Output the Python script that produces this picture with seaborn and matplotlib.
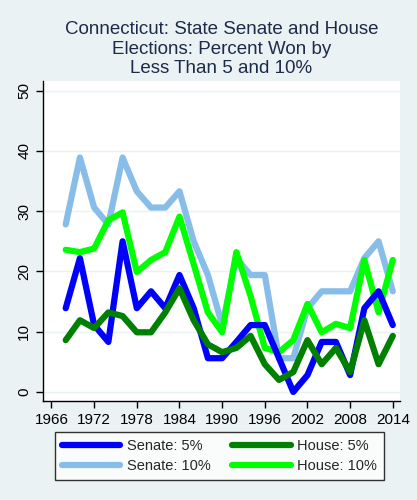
import pandas as pd
import matplotlib
matplotlib.use("Agg")
import matplotlib.pyplot as plt
import seaborn as sns

# data (percent of seats won by less than 5 / 10 points)
years = list(range(1968, 2015, 2))
senate_5 = [13.9, 22.2, 11.1, 8.3, 25.0, 13.9, 16.7, 13.9, 19.4, 13.9, 5.6, 5.6,
            8.3, 11.1, 11.1, 5.6, 0.0, 2.8, 8.3, 8.3, 2.8, 13.9, 16.7, 11.1]
senate_10 = [27.8, 38.9, 30.6, 27.8, 38.9, 33.3, 30.6, 30.6, 33.3, 25.0, 19.4, 11.1,
             22.2, 19.4, 19.4, 5.6, 5.6, 13.9, 16.7, 16.7, 16.7, 22.2, 25.0, 16.7]
house_5 = [8.6, 11.9, 10.6, 13.2, 12.6, 9.9, 9.9, 13.2, 17.2, 11.9, 7.9, 6.6,
           7.3, 9.3, 4.6, 2.0, 3.3, 8.6, 4.6, 7.3, 3.3, 11.9, 4.6, 9.3]
house_10 = [23.6, 23.2, 23.8, 28.5, 29.8, 19.9, 21.9, 23.2, 29.1, 21.2, 13.2, 9.9,
            23.2, 15.9, 7.3, 6.6, 8.6, 14.6, 9.9, 11.3, 10.6, 21.9, 13.2, 21.9]

series_names = ["Senate: 5%", "Senate: 10%", "House: 5%", "House: 10%"]
colors = ["#0000ff", "#87bde8", "#008000", "#00ff00"]

df = pd.DataFrame({"year": years, "Senate: 5%": senate_5, "Senate: 10%": senate_10,
                   "House: 5%": house_5, "House: 10%": house_10})
long = df.melt(id_vars="year", var_name="series", value_name="pct")

bg = "#eaf2f3"
sns.set_theme(style="white")
plt.rcParams["font.family"] = ["Liberation Sans", "DejaVu Sans"]

fig = plt.figure(figsize=(4.17, 5), dpi=100, facecolor=bg)
ax = fig.add_axes([0.103, 0.198, 0.856, 0.640])
ax.set_facecolor("white")

# draw order: 10% lines under 5% lines
draw_order = ["Senate: 10%", "House: 10%", "Senate: 5%", "House: 5%"]
pal = dict(zip(series_names, colors))
for name in draw_order:
    sns.lineplot(data=long[long.series == name], x="year", y="pct", color=pal[name],
                 linewidth=4.5, solid_capstyle="round", solid_joinstyle="round",
                 ax=ax, legend=False)

ax.set_xlim(1964.8, 2015.0)
ax.set_ylim(-1.5, 51.6)
ax.set_xticks(range(1966, 2015, 6))
ax.set_yticks(range(0, 51, 10))
ax.set_xlabel("")
ax.set_ylabel("")
ax.grid(axis="y", color=bg, linewidth=1)
ax.set_axisbelow(True)
for s in ["top", "right"]:
    ax.spines[s].set_visible(False)
for s in ["left", "bottom"]:
    ax.spines[s].set_color("black")
    ax.spines[s].set_linewidth(1)
ax.tick_params(axis="both", which="major", direction="out", length=5, width=1,
               color="black", labelsize=11, labelcolor="black", left=True, bottom=True)
for lbl in ax.get_yticklabels():
    lbl.set_rotation(90)
    lbl.set_va("center")

fig.text(0.531, 0.958, "Connecticut: State Senate and House\nElections: Percent Won by\nLess Than 5 and 10%",
         ha="center", va="top", fontsize=13.5, color="#1e2a4a", linespacing=1.2)

handles = [plt.Line2D([], [], color=pal[n], linewidth=4.5, solid_capstyle="round") for n in series_names]
leg = fig.legend(handles, series_names, loc="center", bbox_to_anchor=(0.526, 0.088),
                 ncol=2, fontsize=10.5, frameon=True, fancybox=False, handlelength=4.0,
                 handletextpad=0.45, columnspacing=1.5, labelspacing=0.45,
                 borderpad=0.45, borderaxespad=0, edgecolor="black")
leg.get_frame().set_linewidth(1)

fig.savefig("out.png", dpi=100, facecolor=bg)
